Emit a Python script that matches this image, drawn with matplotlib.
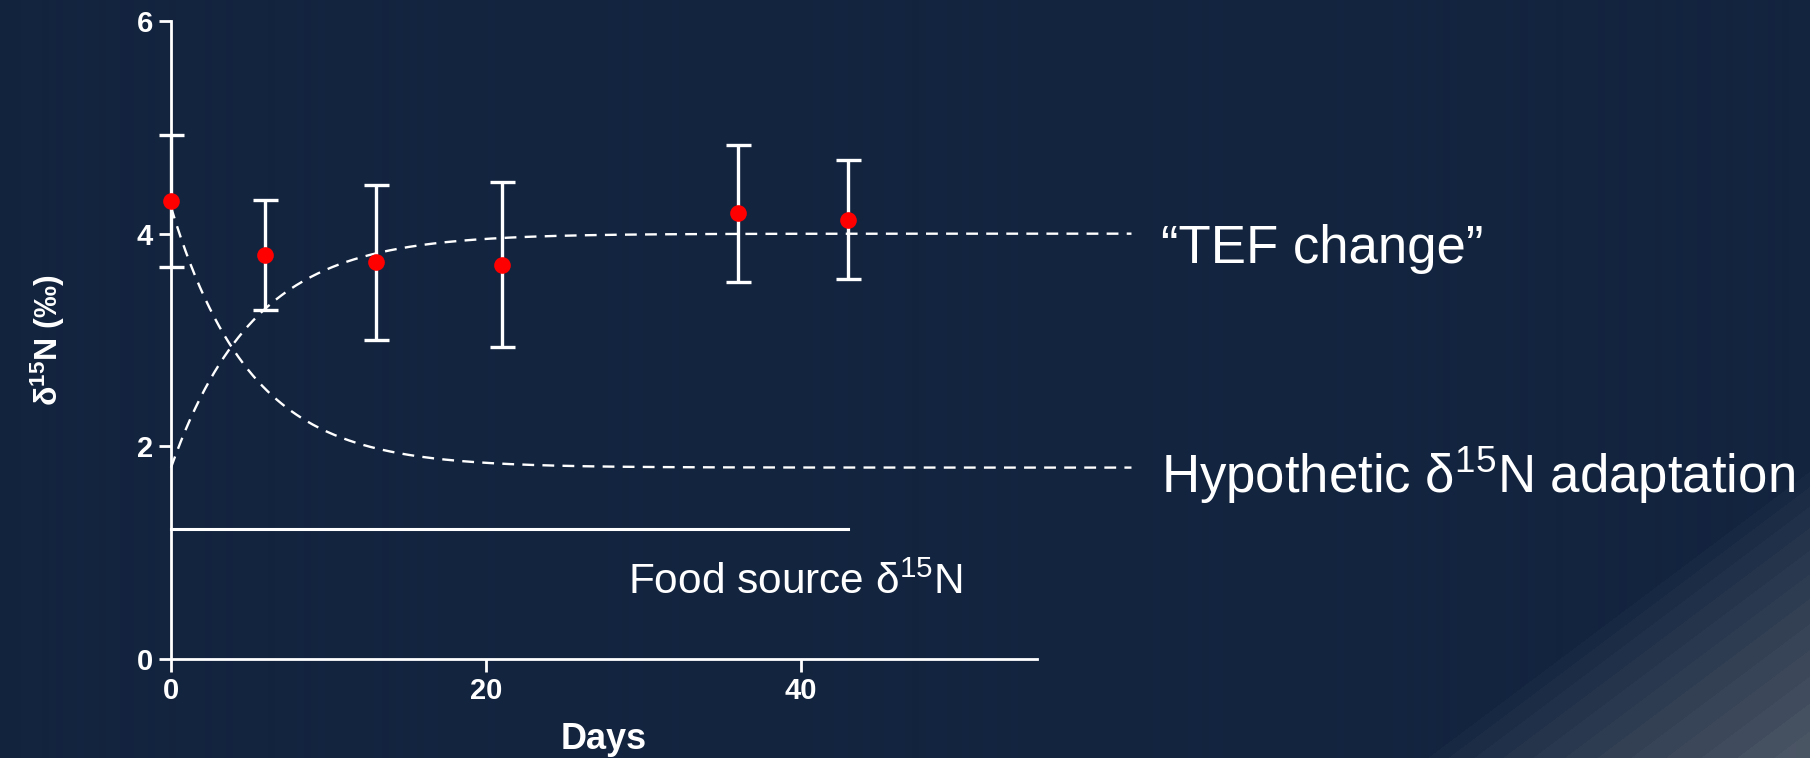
import numpy as np
import matplotlib
matplotlib.use("Agg")
import matplotlib.pyplot as plt

plt.rcParams["font.family"] = ["Liberation Sans", "DejaVu Sans"]
plt.rcParams["mathtext.fontset"] = "custom"
plt.rcParams["mathtext.rm"] = "Liberation Sans"
plt.rcParams["mathtext.bf"] = "Liberation Sans:bold"
plt.rcParams["mathtext.default"] = "regular"

# measured tissue values (days after diet switch)
days = [0, 6, 13, 21, 36, 43]
d15n_mean = [4.31, 3.80, 3.73, 3.71, 4.19, 4.13]
d15n_err = [0.62, 0.52, 0.73, 0.78, 0.64, 0.56]

# food source level
food_d15n = 1.22
food_days = [0, 43]

# hypothetical one-phase curves: start value, plateau, rate constant (per day)
tef_start, tef_plateau, tef_rate = 1.80, 4.00, 0.19
adapt_start, adapt_plateau, adapt_rate = 4.25, 1.80, 0.20
curve_end_day = 61

x_ticks = [0, 20, 40]
y_ticks = [0, 2, 4, 6]

BG = "#13243F"
WHITE = "white"
RED = "#FF0000"

W, H = 1810, 758
fig = plt.figure(figsize=(W / 100, H / 100), dpi=100)
fig.patch.set_facecolor(BG)

# slide background with banded diagonal shading toward the lower-right corner
bg_ax = fig.add_axes([0, 0, 1, 1], zorder=-10)
yy, xx = np.mgrid[0:H, 0:W]
d = 0.6 * xx + 0.8 * yy
t = np.clip((d - 1462) / (1692 - 1462), 0, 1) ** 0.85
t = np.ceil(t * 12) / 12
c0 = np.array([0x13, 0x24, 0x3F]) / 255
c1 = np.array([0x4A, 0x55, 0x64]) / 255
img = c0[None, None, :] * (1 - t[..., None]) + c1[None, None, :] * t[..., None]
bg_ax.imshow(img, aspect="auto", extent=[0, 1, 0, 1], origin="upper")
bg_ax.axis("off")

ax = fig.add_axes([171 / W, 1 - 659 / H, (1037 - 171) / W, (659 - 21) / H])
ax.set_facecolor("none")
ax.set_xlim(0, 55)
ax.set_ylim(0, 6)

for s in ["top", "right"]:
    ax.spines[s].set_visible(False)
for s in ["left", "bottom"]:
    ax.spines[s].set_color(WHITE)
    ax.spines[s].set_linewidth(2.0)

ax.set_xticks(x_ticks)
ax.set_yticks(y_ticks)
ax.tick_params(colors=WHITE, width=2.0, length=9, labelsize=21, pad=4)
for lab in ax.get_xticklabels() + ax.get_yticklabels():
    lab.set_fontweight("bold")

ax.set_xlabel("Days", color=WHITE, fontsize=26, fontweight="bold", labelpad=12)
ax.set_ylabel(r"δ$^{15}$N (‰)", color=WHITE, fontsize=23, fontweight="bold", labelpad=50)

# model curves
xc = np.linspace(0, curve_end_day, 400)
tef = tef_plateau - (tef_plateau - tef_start) * np.exp(-tef_rate * xc)
adapt = adapt_plateau + (adapt_start - adapt_plateau) * np.exp(-adapt_rate * xc)
ax.plot(xc, tef, color=WHITE, lw=1.7, ls=(0, (5, 3.5)), clip_on=False, zorder=2)
ax.plot(xc, adapt, color=WHITE, lw=1.7, ls=(0, (5, 3.5)), clip_on=False, zorder=2)

# food source line
ax.plot(food_days, [food_d15n, food_d15n], color=WHITE, lw=2.2, clip_on=False, zorder=2)

# measurements
ax.errorbar(days, d15n_mean, yerr=d15n_err, fmt="none", ecolor=WHITE,
            elinewidth=2.4, capsize=9, capthick=2.4, clip_on=False, zorder=3)
ax.plot(days, d15n_mean, "o", color=RED, ms=12, mec="none", clip_on=False, zorder=4)

ax.text(62.9, 3.72, "“TEF change”", color=WHITE, fontsize=38, va="baseline",
        ha="left", clip_on=False)
ax.text(62.9, 1.56, r"Hypothetic δ$^{15}$N adaptation", color=WHITE, fontsize=38,
        va="baseline", ha="left", clip_on=False)
ax.text(29.0, 0.61, r"Food source δ$^{15}$N", color=WHITE, fontsize=30.5,
        va="baseline", ha="left", clip_on=False)

fig.savefig("out.png", dpi=100, facecolor=BG)
